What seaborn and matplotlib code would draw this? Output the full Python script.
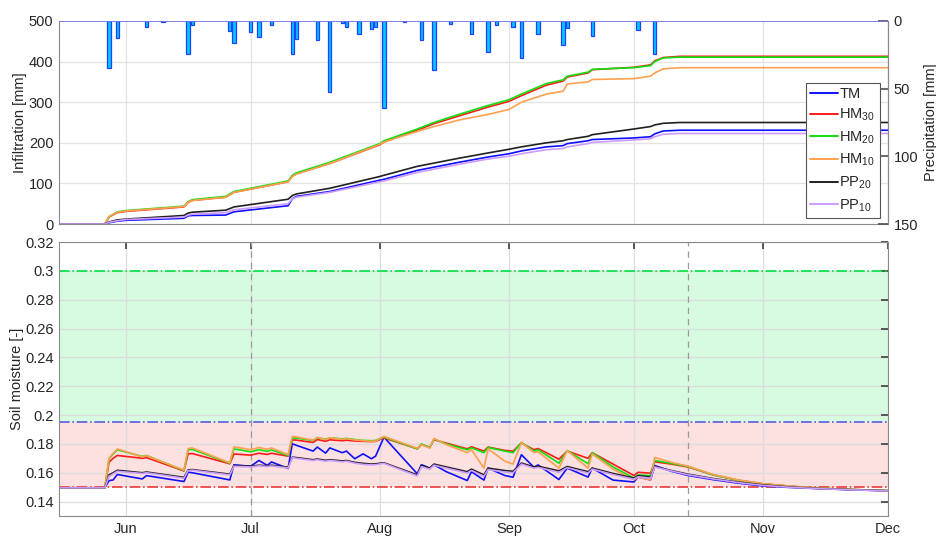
import numpy as np
import pandas as pd
import matplotlib
matplotlib.use("Agg")
import matplotlib.pyplot as plt
import matplotlib.dates as mdates
from matplotlib.lines import Line2D
from matplotlib.ticker import FuncFormatter
import seaborn as sns

YEAR = 2021

# ---------------- data ----------------
series_names = ["TM", "HM30", "HM20", "HM10", "PP20", "PP10"]
legend_labels = ["TM", "HM$_{30}$", "HM$_{20}$", "HM$_{10}$", "PP$_{20}$", "PP$_{10}$"]
series_colors = ["#1010ff", "#ff1a1a", "#10e010", "#ffa050", "#202020", "#cc9cff"]

# precipitation (mm)
precip_dates = ["05-28", "05-30", "06-06", "06-10", "06-16", "06-17", "06-26", "06-27",
                "07-01", "07-03", "07-06", "07-11", "07-12", "07-17", "07-20", "07-23",
                "07-24", "07-27", "07-30", "07-31", "08-02", "08-07", "08-11", "08-14",
                "08-18", "08-23", "08-27", "08-29", "09-02", "09-04", "09-08", "09-14",
                "09-15", "09-21", "10-02", "10-06"]
precip_mm = [34.5, 12.8, 4.2, 0.8, 24.2, 3.0, 7.2, 16.3,
             8.4, 11.8, 3.2, 24.6, 13.5, 14.3, 52.5, 1.7,
             4.7, 9.4, 5.9, 4.2, 64.5, 1.0, 14.0, 36.2,
             2.2, 9.4, 22.7, 3.0, 4.2, 27.1, 9.6, 18.0,
             5.0, 10.9, 6.7, 24.2]

# cumulative infiltration (mm)
inf_dates = ["05-16", "05-27", "05-28", "05-30", "06-01", "06-15", "06-16", "06-17",
             "06-25", "06-27", "07-10", "07-11", "07-12", "07-20", "08-01", "08-02",
             "08-10", "08-14", "08-20", "08-27", "09-01", "09-04", "09-10", "09-14",
             "09-15", "09-20", "09-21", "10-01", "10-05", "10-06", "10-08", "10-12", "12-01"]
inf_TM = [0, 0, 3, 7, 9, 14, 20, 21, 22, 30, 45, 62, 68, 80, 108, 110, 132, 140, 152, 165,
          173, 180, 190, 193, 198, 205, 208, 212, 215, 222, 229, 231, 231]
inf_HM30 = [0, 0, 17, 28, 31, 42, 53, 58, 66, 78, 104, 118, 124, 149, 195, 202, 231, 247, 266, 288,
            302, 316, 342, 352, 362, 372, 380, 386, 392, 402, 410, 413, 413]
inf_HM20 = [0, 0, 18, 30, 33, 44, 55, 60, 68, 80, 106, 120, 126, 152, 198, 205, 234, 250, 270, 292,
            306, 320, 346, 355, 364, 374, 381, 385, 390, 400, 409, 411, 411]
inf_HM10 = [0, 0, 18, 29, 32, 43, 54, 58, 66, 78, 104, 117, 123, 149, 196, 202, 228, 240, 256, 270,
            282, 300, 320, 327, 345, 350, 356, 358, 364, 372, 382, 385, 385]
inf_PP20 = [0, 0, 5, 10, 12, 21, 27, 29, 34, 42, 61, 70, 74, 88, 117, 120, 142, 150, 162, 175,
            184, 190, 200, 205, 208, 216, 220, 234, 240, 244, 248, 250, 250]
inf_PP10 = [0, 0, 4, 8, 11, 17, 22, 24, 28, 35, 50, 62, 66, 78, 104, 106, 127, 135, 147, 160,
            167, 173, 183, 186, 190, 198, 201, 207, 210, 215, 221, 223, 223]

# soil moisture (-)
sm_dates = ["05-16", "05-27", "05-28", "05-29", "05-30", "06-05", "06-06", "06-15", "06-16", "06-17",
            "06-26", "06-27", "07-01", "07-03", "07-05", "07-06", "07-10", "07-11", "07-12", "07-16",
            "07-17", "07-19", "07-20", "07-23", "07-24", "07-26", "07-28", "07-30", "07-31", "08-02",
            "08-10", "08-11", "08-13", "08-14", "08-17", "08-22", "08-23", "08-26", "08-27", "08-31",
            "09-02", "09-04", "09-07", "09-08", "09-13", "09-15", "09-20", "09-21", "09-26", "10-01",
            "10-02", "10-05", "10-06", "10-10", "10-14", "10-20", "10-26", "11-01", "11-08", "11-15",
            "11-22", "12-01"]
sm_TM = [0.1495, 0.1495, 0.1545, 0.1550, 0.1588, 0.1557, 0.1580, 0.1539, 0.1604, 0.1600,
         0.1550, 0.1655, 0.1645, 0.1685, 0.1651, 0.1675, 0.1630, 0.1801, 0.1790, 0.1750,
         0.1778, 0.1736, 0.1772, 0.1739, 0.1750, 0.1697, 0.1731, 0.1697, 0.1715, 0.1847,
         0.1593, 0.1656, 0.1632, 0.1655, 0.1607, 0.1546, 0.1607, 0.1549, 0.1632, 0.1581,
         0.1569, 0.1725, 0.1638, 0.1654, 0.1553, 0.1632, 0.1570, 0.1632, 0.1549, 0.1536,
         0.1570, 0.1550, 0.1650, 0.1610, 0.1581, 0.1552, 0.1528, 0.1508, 0.1497, 0.1489,
         0.1482, 0.1475]
sm_HM30 = [0.1495, 0.1495, 0.1673, 0.1700, 0.1720, 0.1700, 0.1705, 0.1612, 0.1731, 0.1733,
           0.1662, 0.1730, 0.1722, 0.1735, 0.1727, 0.1735, 0.1715, 0.1828, 0.1826, 0.1810,
           0.1830, 0.1818, 0.1828, 0.1822, 0.1826, 0.1820, 0.1818, 0.1816, 0.1818, 0.1842,
           0.1766, 0.1795, 0.1776, 0.1829, 0.1805, 0.1766, 0.1780, 0.1750, 0.1778, 0.1755,
           0.1750, 0.1806, 0.1760, 0.1768, 0.1694, 0.1750, 0.1700, 0.1739, 0.1660, 0.1581,
           0.1603, 0.1597, 0.1676, 0.1660, 0.1640, 0.1585, 0.1548, 0.1523, 0.1505, 0.1492,
           0.1484, 0.1476]
sm_HM20 = [0.1495, 0.1495, 0.1696, 0.1730, 0.1759, 0.1713, 0.1720, 0.1615, 0.1759, 0.1762,
           0.1666, 0.1766, 0.1745, 0.1760, 0.1748, 0.1758, 0.1720, 0.1842, 0.1840, 0.1824,
           0.1842, 0.1833, 0.1842, 0.1835, 0.1838, 0.1830, 0.1824, 0.1822, 0.1824, 0.1847,
           0.1766, 0.1800, 0.1774, 0.1833, 0.1800, 0.1759, 0.1773, 0.1739, 0.1775, 0.1750,
           0.1739, 0.1810, 0.1750, 0.1760, 0.1666, 0.1754, 0.1662, 0.1739, 0.1640, 0.1563,
           0.1585, 0.1580, 0.1685, 0.1665, 0.1643, 0.1585, 0.1548, 0.1523, 0.1505, 0.1492,
           0.1484, 0.1476]
sm_HM10 = [0.1495, 0.1495, 0.1700, 0.1735, 0.1765, 0.1710, 0.1718, 0.1618, 0.1768, 0.1772,
           0.1668, 0.1780, 0.1760, 0.1775, 0.1762, 0.1772, 0.1725, 0.1852, 0.1848, 0.1826,
           0.1845, 0.1830, 0.1842, 0.1832, 0.1836, 0.1828, 0.1822, 0.1818, 0.1820, 0.1852,
           0.1770, 0.1795, 0.1770, 0.1838, 0.1795, 0.1739, 0.1760, 0.1632, 0.1766, 0.1680,
           0.1660, 0.1810, 0.1740, 0.1745, 0.1632, 0.1754, 0.1632, 0.1730, 0.1625, 0.1550,
           0.1570, 0.1550, 0.1706, 0.1672, 0.1645, 0.1588, 0.1550, 0.1524, 0.1506, 0.1493,
           0.1484, 0.1476]
sm_PP20 = [0.1495, 0.1495, 0.1585, 0.1600, 0.1617, 0.1600, 0.1605, 0.1568, 0.1620, 0.1622,
           0.1590, 0.1650, 0.1645, 0.1652, 0.1648, 0.1652, 0.1638, 0.1708, 0.1705, 0.1690,
           0.1695, 0.1686, 0.1690, 0.1682, 0.1685, 0.1672, 0.1665, 0.1660, 0.1662, 0.1669,
           0.1585, 0.1650, 0.1632, 0.1660, 0.1640, 0.1607, 0.1625, 0.1585, 0.1632, 0.1615,
           0.1610, 0.1667, 0.1640, 0.1645, 0.1613, 0.1643, 0.1607, 0.1632, 0.1595, 0.1563,
           0.1580, 0.1570, 0.1643, 0.1615, 0.1590, 0.1560, 0.1535, 0.1515, 0.1500, 0.1490,
           0.1483, 0.1475]
sm_PP10 = [0.1495, 0.1495, 0.1575, 0.1592, 0.1610, 0.1595, 0.1600, 0.1562, 0.1615, 0.1618,
           0.1585, 0.1645, 0.1640, 0.1648, 0.1643, 0.1647, 0.1633, 0.1705, 0.1700, 0.1685,
           0.1690, 0.1680, 0.1685, 0.1676, 0.1680, 0.1666, 0.1658, 0.1654, 0.1656, 0.1665,
           0.1578, 0.1642, 0.1625, 0.1652, 0.1632, 0.1598, 0.1616, 0.1575, 0.1622, 0.1605,
           0.1600, 0.1660, 0.1632, 0.1637, 0.1603, 0.1635, 0.1598, 0.1625, 0.1587, 0.1555,
           0.1572, 0.1562, 0.1640, 0.1612, 0.1586, 0.1557, 0.1532, 0.1512, 0.1498, 0.1489,
           0.1482, 0.1474]

# thresholds
sm_upper = 0.30
sm_mid = 0.195
sm_lower = 0.15
marker_dates = ["07-01", "10-14"]


def to_dt(lst):
    return pd.to_datetime([f"{YEAR}-{d}" for d in lst])


inf_values = [inf_TM, inf_HM30, inf_HM20, inf_HM10, inf_PP20, inf_PP10]
sm_values = [sm_TM, sm_HM30, sm_HM20, sm_HM10, sm_PP20, sm_PP10]

df_inf = pd.concat([pd.DataFrame({"date": to_dt(inf_dates), "value": v, "series": n})
                    for n, v in zip(series_names, inf_values)], ignore_index=True)
df_sm = pd.concat([pd.DataFrame({"date": to_dt(sm_dates), "value": v, "series": n})
                   for n, v in zip(series_names, sm_values)], ignore_index=True)
palette = dict(zip(series_names, series_colors))

# ---------------- style ----------------
sns.set_theme(style="white")
plt.rcParams["font.family"] = ["Liberation Sans", "DejaVu Sans"]
plt.rcParams["mathtext.default"] = "regular"
plt.rcParams["font.size"] = 10

fig = plt.figure(figsize=(9.36, 5.36), dpi=100)
W, H = 936, 536
L, R = 59, 888
ax1 = fig.add_axes([L / W, 1 - 224 / H, (R - L) / W, (224 - 21) / H])
ax3 = fig.add_axes([L / W, 1 - 516 / H, (R - L) / W, (516 - 242) / H])

xmin = pd.Timestamp(f"{YEAR}-05-16")
xmax = pd.Timestamp(f"{YEAR}-12-01")
spine_c = "#8a8a8a"
grid_c = "#e3e3e3"

# ---------------- top panel ----------------
ax1.set_axisbelow(True)
ax1.grid(True, color=grid_c, lw=0.9)
sns.lineplot(data=df_inf, x="date", y="value", hue="series", hue_order=series_names,
             palette=palette, ax=ax1, legend=False, linewidth=1.2, estimator=None)
ax1.set_xlim(xmin, xmax)
ax1.set_ylim(0, 500)
ax1.set_yticks([0, 100, 200, 300, 400, 500])
ax1.set_ylabel("Infiltration [mm]", fontsize=10.5, labelpad=1)
ax1.set_xlabel("")
ax1.xaxis.set_major_locator(mdates.MonthLocator())
ax1.tick_params(axis="x", labelbottom=False, length=0)
ax1.tick_params(axis="y", direction="in", length=0, labelsize=10.5, pad=4, colors="#262626")
for s in ["left", "bottom", "right"]:
    ax1.spines[s].set_color(spine_c)
    ax1.spines[s].set_linewidth(0.8)
ax1.spines["top"].set_visible(False)

ax2 = ax1.twinx()
pdates = to_dt(precip_dates)
ax2.bar(pdates, precip_mm, width=0.8, color="#00c8ff", edgecolor="#2040ff", linewidth=0.9,
        zorder=3)
ax2.axhline(0, color="#7878e0", lw=1.3, zorder=4)
ax2.set_ylim(150, 0)
ax2.set_yticks([0, 50, 100, 150])
ax2.set_ylabel("Precipitation [mm]", fontsize=10.5, labelpad=4)
ax2.tick_params(axis="y", direction="in", length=7, color="#555555", labelsize=10.5, pad=4,
                labelcolor="#262626")
for s in ["left", "bottom", "right", "top"]:
    ax2.spines[s].set_visible(False)
ax2.spines["right"].set_visible(True)
ax2.spines["right"].set_color(spine_c)
ax2.spines["right"].set_linewidth(0.8)
ax2.set_xlim(xmin, xmax)

handles = [Line2D([0], [0], color=c, lw=1.4) for c in series_colors]
leg = ax2.legend(handles, legend_labels, loc="lower right", bbox_to_anchor=(0.99, 0.03),
                 fontsize=10.5, frameon=True, fancybox=False, framealpha=1, edgecolor="#555555",
                 handlelength=1.9, handletextpad=0.1, labelspacing=0.42, borderpad=0.3,
                 borderaxespad=0)
leg.get_frame().set_linewidth(0.8)

# ---------------- bottom panel ----------------
ax3.set_axisbelow(True)
ax3.axhspan(sm_mid, sm_upper, color="#d6fbe0", zorder=0.2, lw=0)
ax3.axhspan(sm_lower, sm_mid, color="#fde0e0", zorder=0.2, lw=0)
ax3.grid(True, color="#dcdcdc", lw=0.9, zorder=0.5)
ax3.axhline(sm_upper, color="#00e040", ls="-.", lw=1.2, zorder=1.2)
ax3.axhline(sm_mid, color="#5a5ae0", ls="-.", lw=1.2, zorder=1.2)
ax3.axhline(sm_lower, color="#e83838", ls="-.", lw=1.2, zorder=1.2)
for d in to_dt(marker_dates):
    ax3.axvline(d, color="#9a9a9a", ls=(0, (5, 4)), lw=0.9, zorder=1)

sns.lineplot(data=df_sm, x="date", y="value", hue="series", hue_order=series_names,
             palette=palette, ax=ax3, legend=False, linewidth=1.2, estimator=None)
ax3.set_xlim(xmin, xmax)
ax3.set_ylim(0.13, 0.32)
ax3.set_yticks(np.arange(0.14, 0.321, 0.02))
ax3.yaxis.set_major_formatter(FuncFormatter(lambda v, p: f"{v:g}"))
ax3.xaxis.set_major_locator(mdates.MonthLocator(bymonth=[6, 7, 8, 9, 10, 11, 12]))
ax3.xaxis.set_major_formatter(mdates.DateFormatter("%b"))
ax3.set_xlabel("")
ax3.set_ylabel("Soil moisture [-]", fontsize=10.5, labelpad=1)
ax3.tick_params(which="both", direction="in", length=5, top=True, right=True,
                color="#444444", labelsize=10.5, labelcolor="#262626")
ax3.tick_params(axis="x", pad=4)
for s in ["left", "bottom", "right", "top"]:
    ax3.spines[s].set_color(spine_c)
    ax3.spines[s].set_linewidth(0.8)

fig.savefig("out.png", dpi=100)
